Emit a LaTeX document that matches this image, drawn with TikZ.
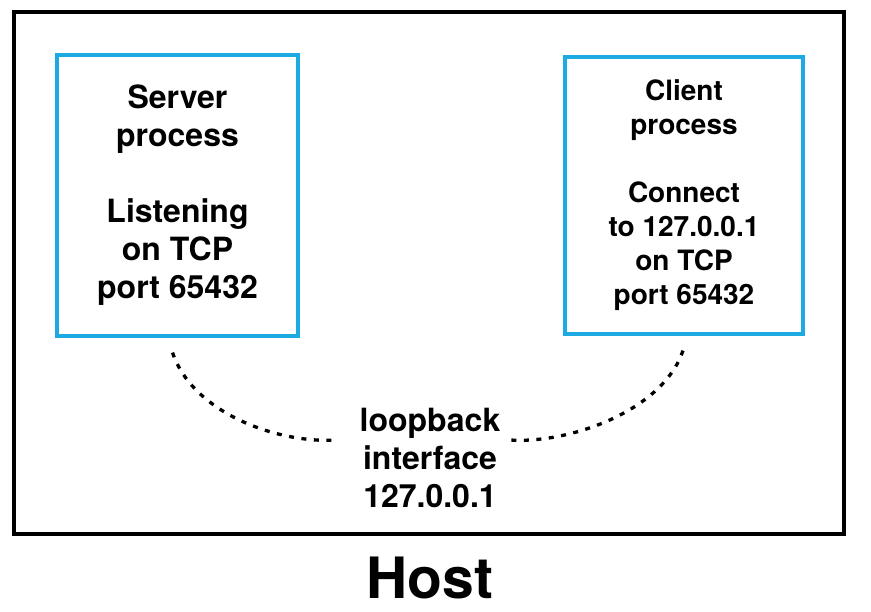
\documentclass[tikz,border=0pt]{standalone}
\usepackage{fontspec}
\setmainfont{TeX Gyre Heros}
\usepackage{xcolor}
\usetikzlibrary{positioning,calc}
\definecolor{procblue}{RGB}{29,170,226}

\begin{document}
\begin{tikzpicture}[x=1pt,y=-1pt,
        procbox/.style={draw=procblue,line width=3.2pt,align=center,inner sep=0pt},
        dotline/.style={line width=3.3pt,dash pattern=on 5pt off 7.5pt}]
    \useasboundingbox (0,0) rectangle (871,612);

    % Host frame and label
    \draw[line width=3.3pt] (14,12) rectangle (844,534);
    \node[font=\bfseries\fontsize{57}{60}\selectfont] (host) at (430,578) {Host};

    % Server and client processes
    \node[procbox,minimum width=241pt,minimum height=281pt,font=\bfseries\fontsize{32}{38}\selectfont]
        (server) at (177.5,195.5) {Server\\process\\[38pt]Listening\\on TCP\\port 65432};
    \node[procbox,minimum width=238pt,minimum height=277pt,font=\bfseries\fontsize{28}{34}\selectfont]
        (client) at (684,195.5) {Client\\process\\[34pt]Connect\\to 127.0.0.1\\on TCP\\port 65432};

    % Loopback interface
    \node[align=center,inner sep=0pt,font=\bfseries\fontsize{32}{38}\selectfont]
        (loopback) at (430,458) {loopback\\interface\\127.0.0.1};

    % Dotted links
    \draw[dotline] ([xshift=-5pt,yshift=-15pt]server.south)
        .. controls +(20,60) and +(-60,4) .. ([xshift=-22pt,yshift=18pt]loopback.west);
    \draw[dotline] ([xshift=-1pt,yshift=-15pt]client.south)
        .. controls +(-20,60) and +(60,4) .. ([xshift=9pt,yshift=18pt]loopback.east);
\end{tikzpicture}
\end{document}
